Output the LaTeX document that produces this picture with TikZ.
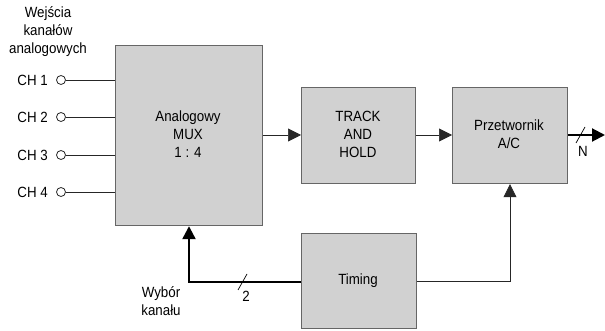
\documentclass[tikz,border=0pt]{standalone}
\usepackage{fontspec}
\setmainfont{Liberation Sans}[FakeStretch=0.9]
\usetikzlibrary{arrows.meta}
\begin{document}
\begin{tikzpicture}[x=1pt,y=-1pt,
  blockbox/.style={draw=black!60,line width=1.2pt,fill=black!18,inner sep=0pt,anchor=north west},
  lbl/.style={font=\fontsize{14.8}{18}\selectfont,inner sep=0pt,align=center},
  thin/.style={line width=0.7pt,draw=black!85},
  tip/.style={-{Triangle[length=13pt,width=13pt]}},
  port/.style={circle,draw=black!85,line width=0.8pt,fill=white,minimum size=9pt,inner sep=0pt}]
\useasboundingbox (0,0) rectangle (605,331);
% blocks
\node[blockbox,minimum width=147pt,minimum height=180pt] (mux) at (115,45) {};
\node[lbl] (muxt) at (188,134) {Analogowy\\MUX\\1 : 4};
\node[blockbox,minimum width=114pt,minimum height=96pt] (th) at (301,87) {};
\node[lbl] (tht) at (358,134) {TRACK\\AND\\HOLD};
\node[blockbox,minimum width=115pt,minimum height=96pt] (ac) at (452,87) {};
\node[lbl] (act) at (509,134) {Przetwornik\\A/C};
\node[blockbox,minimum width=115pt,minimum height=95pt] (tim) at (301,233) {};
\node[lbl] (timt) at (358,281) {Timing};
% inputs title
\node[lbl] (title) at (48,32) {Wejścia\\kanałów\\analogowych};
% channels
\foreach \i/\y in {1/80,2/117,3/155,4/192}{
  \node[lbl,anchor=east] (ch\i) at (48,\y) {CH \i};
  \node[port] (p\i) at (61,\y) {};
  \coordinate (m\i) at (115,\y);
  \draw[thin] (p\i) -- (m\i);
}
% main path
\draw[thin,tip] (mux.east |- 0,135) -- (th.west |- 0,135);
\draw[thin,tip] (th.east |- 0,135) -- (ac.west |- 0,135);
\coordinate (out) at (605,135);
\draw[line width=2pt,tip] (ac.east |- 0,135) -- (out);
\coordinate (s1a) at (576,143); \coordinate (s1b) at (585,127);
\draw[line width=0.7pt] (s1a) -- (s1b);
\node[lbl] (nlab) at (583,151) {N};
% timing to A/C
\coordinate (tc) at (510,281);
\draw[thin,tip] (tim.east |- 0,281) -- (tc) -- (tc |- ac.south);
% timing to MUX
\coordinate (tm) at (189,282);
\draw[line width=2.4pt,tip] (tim.west |- 0,282) -- (tm) -- (tm |- mux.south);
\coordinate (s2a) at (238,290); \coordinate (s2b) at (247,274);
\draw[line width=0.7pt] (s2a) -- (s2b);
\node[lbl] (twolab) at (246,296) {2};
\node[lbl] (wyb) at (161,301) {Wybór\\kanału};
\end{tikzpicture}
\end{document}
